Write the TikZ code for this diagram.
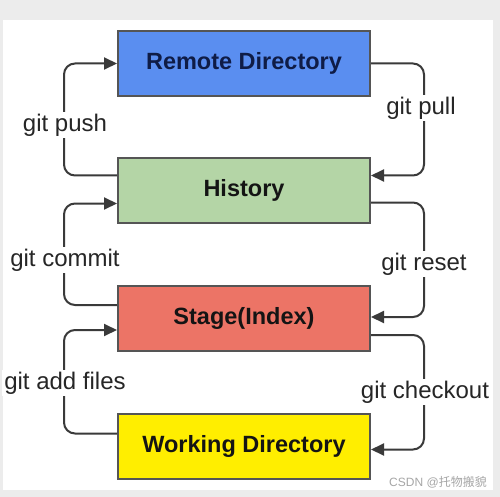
\documentclass[tikz,border=0pt]{standalone}
\usepackage{fontspec}
\setmainfont{Liberation Sans}
\newfontfamily\cjkfont{Noto Sans CJK SC}
\usetikzlibrary{arrows.meta}
\definecolor{bgray}{RGB}{236,236,236}
\definecolor{cremote}{RGB}{90,142,240}
\definecolor{chist}{RGB}{180,213,166}
\definecolor{cstage}{RGB}{236,116,102}
\definecolor{cwork}{RGB}{255,238,0}
\definecolor{bord}{RGB}{85,85,85}
\definecolor{lin}{RGB}{58,58,58}
\tikzset{
  box/.style={draw=bord, line width=2pt, minimum width=252pt, minimum height=65pt,
    inner sep=0pt, font=\fontsize{23.5}{28}\selectfont\bfseries, text=black!92},
  conn/.style={draw=lin, line width=2pt, rounded corners=11pt,
    -{Triangle[length=13pt,width=12pt]}},
  lbl/.style={fill=white, inner sep=2pt, font=\fontsize{24}{28}\selectfont, text=black!85}
}
\begin{document}
\begin{tikzpicture}[x=1pt,y=-1pt]
\useasboundingbox (0,0) rectangle (500,497);
\fill[bgray] (0,0) rectangle (500,497);
\fill[white] (3,20) rectangle (493,490);
\node[box, fill=cremote, text={rgb,255:red,15;green,28;blue,70}] (remote) at (244,63.5) {Remote Directory};
\node[box, fill=chist] (hist) at (244,190.5) {History};
\node[box, fill=cstage] (stage) at (244,318) {Stage(Index)};
\node[box, fill=cwork] (work) at (244,446.5) {Working Directory};
% left side
\draw[conn] ([yshift=15pt]hist.west) -- ++(-53,0) |- (remote.west);
\draw[conn] ([yshift=13pt]stage.west) -- ++(-53,0) |- ([yshift=-13pt]hist.west);
\draw[conn] ([yshift=13pt]work.west) -- ++(-53,0) |- ([yshift=-12pt]stage.west);
% right side
\draw[conn] (remote.east) -- ++(53,0) |- ([yshift=15pt]hist.east);
\draw[conn] ([yshift=-12pt]hist.east) -- ++(53,0) |- ([yshift=1pt]stage.east);
\draw[conn] ([yshift=-17pt]stage.east) -- ++(53,0) |- ([yshift=-3pt]work.east);
% labels
\node[lbl] (lpush) at (65,125) {git push};
\node[lbl] (lpull) at (421,108) {git pull};
\node[lbl] (lcommit) at (65,260) {git commit};
\node[lbl] (lreset) at (424,264) {git reset};
\node[lbl] (ladd) at (65,383) {git add files};
\node[lbl] (lcheck) at (425,392) {git checkout};
\node[text=black!35, font=\fontsize{12}{14}\selectfont, inner sep=0pt] (wm) at (438,482) {CSDN @\cjkfont 托物搬貌};
\end{tikzpicture}
\end{document}
